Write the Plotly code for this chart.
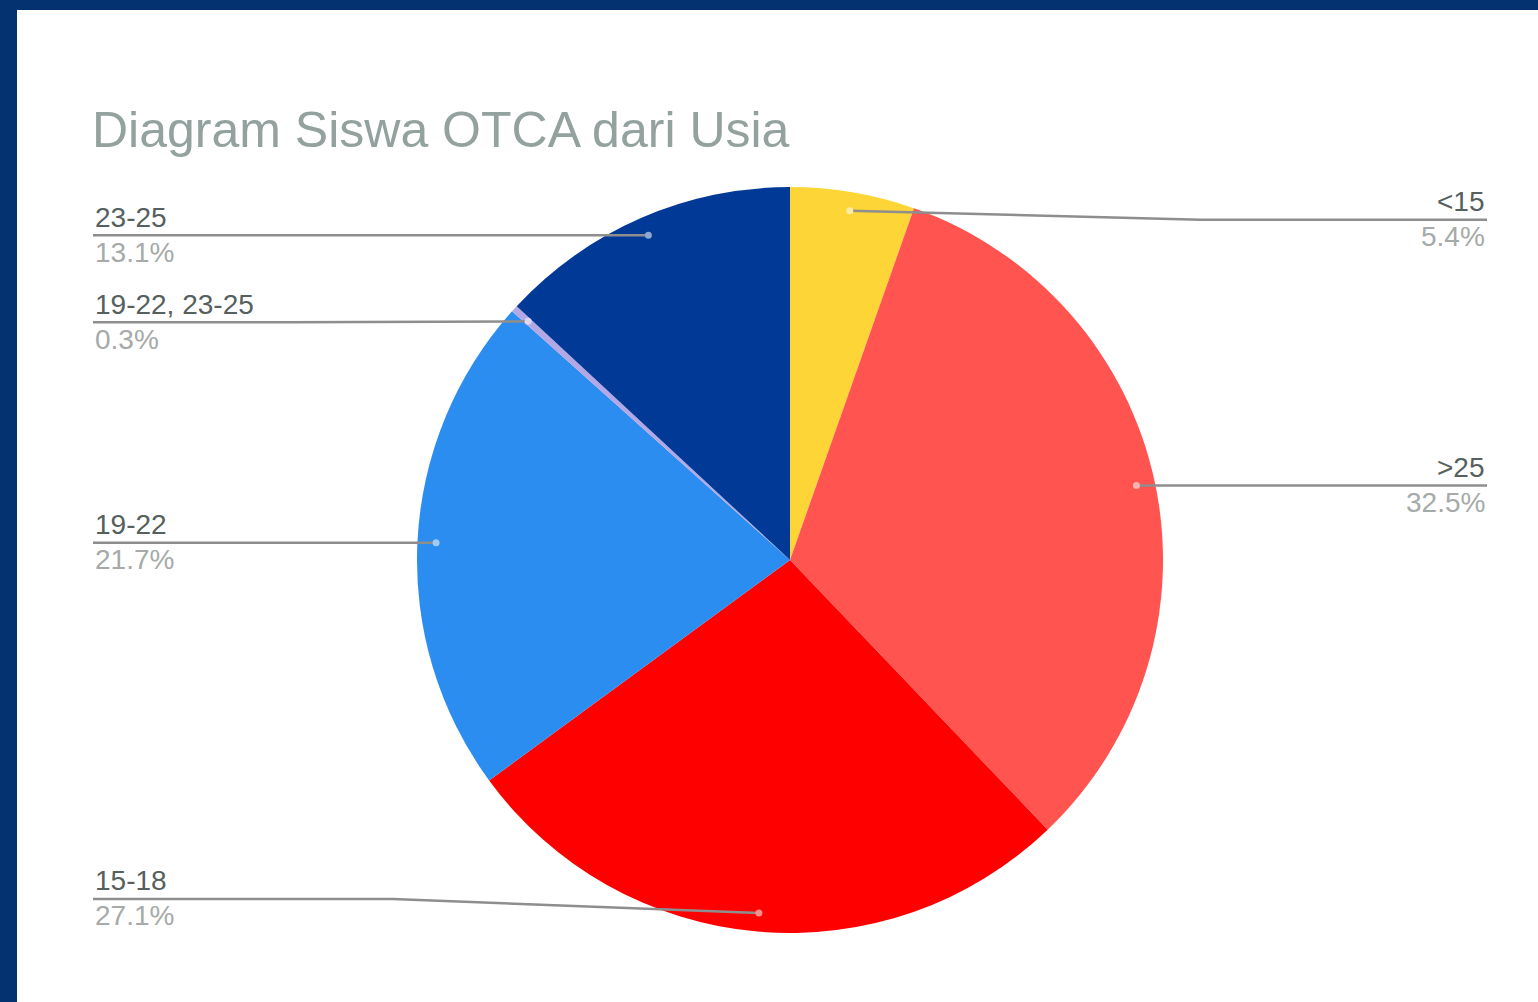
import math
import plotly.graph_objects as go

# ---- data ----
categories = ["<15", ">25", "15-18", "19-22", "19-22, 23-25", "23-25"]
values = [5.4, 32.5, 27.1, 21.7, 0.3, 13.1]
colors = ["#FDD536", "#FF5450", "#FF0000", "#2B8DF0", "#B4A7E6", "#013A96"]
title_text = "Diagram Siswa OTCA dari Usia"

# ---- layout constants (pixels) ----
W, H = 1538, 1002
CX, CY, R = 790, 560, 373
LEFT_X, RIGHT_X = 93, 1487
DOT_R = 0.95
FONT = "Arial, Liberation Sans, sans-serif"
# small vertical nudges of label lines relative to their dots
label_nudge = {"<15": 9, "15-18": -14, "19-22, 23-25": 1}

def px(x):
    return x / W

def py(y):
    return 1 - y / H

fig = go.Figure()
fig.add_trace(go.Pie(
    labels=categories, values=values, sort=False, direction="clockwise",
    rotation=0, marker=dict(colors=colors, line=dict(width=0)),
    textinfo="none", hoverinfo="label+percent", showlegend=False,
    domain=dict(x=[px(CX - R), px(CX + R)], y=[py(CY + R), py(CY - R)]),
))

shapes = []
annotations = []
# border of page
shapes.append(dict(type="rect", xref="paper", yref="paper", x0=0, x1=px(17), y0=0, y1=1,
                   fillcolor="#04316F", line=dict(width=0), layer="below"))
shapes.append(dict(type="rect", xref="paper", yref="paper", x0=0, x1=1, y0=py(10), y1=1,
                   fillcolor="#04316F", line=dict(width=0), layer="below"))

def tint(hexcol, f=0.5):
    r, g, b = int(hexcol[1:3], 16), int(hexcol[3:5], 16), int(hexcol[5:7], 16)
    r = int(r + (255 - r) * f); g = int(g + (255 - g) * f); b = int(b + (255 - b) * f)
    return f"rgb({r},{g},{b})"

total = sum(values)
cum = 0.0
for cat, v, col in zip(categories, values, colors):
    mid = (cum + v / 2) / total * 2 * math.pi
    cum += v
    dx = CX + DOT_R * R * math.sin(mid)
    dy = CY - DOT_R * R * math.cos(mid)
    right = math.sin(mid) > 0
    lx = RIGHT_X if right else LEFT_X
    ly = dy + label_nudge.get(cat, 0)
    ex = lx + 0.45 * (dx - lx)
    path = f"M {px(lx)},{py(ly)} L {px(ex)},{py(ly)} L {px(dx)},{py(dy)}"
    shapes.append(dict(type="path", xref="paper", yref="paper", path=path,
                       line=dict(color="#8E8E8E", width=2.5), layer="above"))
    shapes.append(dict(type="circle", xref="paper", yref="paper",
                       x0=px(dx - 3.5), x1=px(dx + 3.5), y0=py(dy + 3.5), y1=py(dy - 3.5),
                       fillcolor=tint(col, 0.55), line=dict(width=0), layer="above"))
    pct = v / total * 100
    anchor = "right" if right else "left"
    annotations.append(dict(xref="paper", yref="paper", x=px(lx), y=py(ly - 18),
                            text=cat, showarrow=False, xanchor=anchor, yanchor="middle",
                            font=dict(family=FONT, size=28, color="#56605E")))
    annotations.append(dict(xref="paper", yref="paper", x=px(lx), y=py(ly + 17),
                            text=f"{pct:.1f}%", showarrow=False, xanchor=anchor, yanchor="middle",
                            font=dict(family=FONT, size=28, color="#A6AAA9")))

annotations.append(dict(xref="paper", yref="paper", x=px(LEFT_X - 3), y=py(130),
                        text=title_text, showarrow=False, xanchor="left", yanchor="middle",
                        font=dict(family=FONT, size=50, color="#93A29F")))

fig.update_layout(
    width=W, height=H, margin=dict(l=0, r=0, t=0, b=0),
    paper_bgcolor="white", plot_bgcolor="white",
    shapes=shapes, annotations=annotations,
)
fig.write_html("out.html", config={"displayModeBar": False},
               post_script="document.body.style.margin='0px';document.body.style.overflow='hidden';")
